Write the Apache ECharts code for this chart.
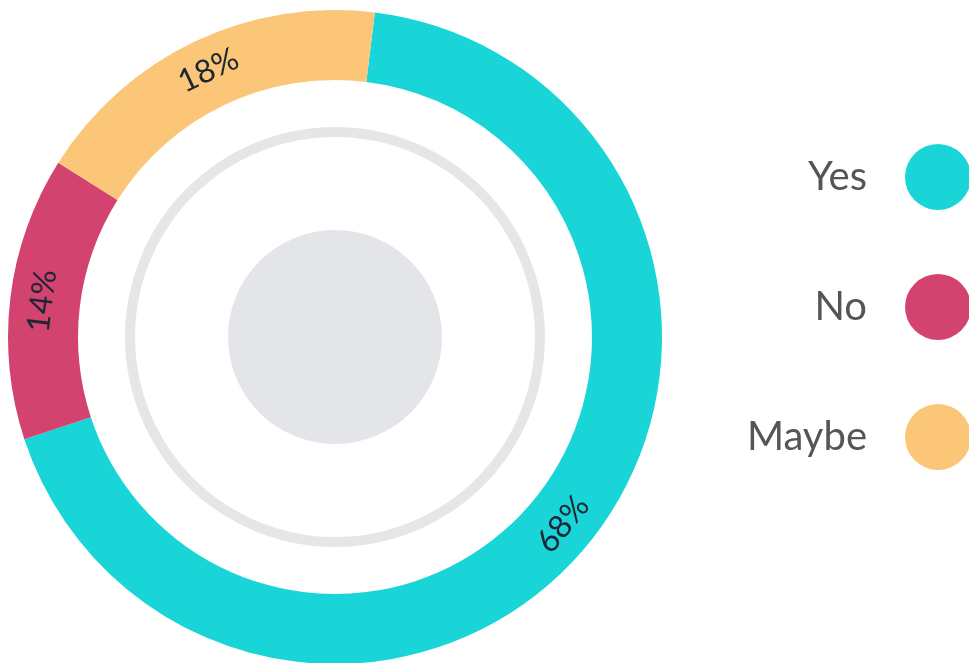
<!DOCTYPE html>
<html>
<head>
<meta charset="utf-8">
<script src="https://cdn.jsdelivr.net/npm/echarts@6/dist/echarts.min.js"></script>
<style>
  html, body { margin: 0; padding: 0; background: #fff; }
  #chart { width: 969px; height: 663px; }
</style>
</head>
<body>
<div id="chart"></div>
<script>
// poll answers, in percent
const categories = ['Yes', 'No', 'Maybe'];
const values = [68, 14, 18];
const colors = ['#1ad5d8', '#d3436f', '#fbc677'];

const chart = echarts.init(document.getElementById('chart'));

const option = {
    animation: false,
    color: colors,
    legend: {
        data: categories,
        orient: 'vertical',
        right: -7,
        top: 139,
        align: 'right',
        icon: 'circle',
        itemWidth: 66,
        itemHeight: 66,
        itemGap: 64,
        selectedMode: false,
        textStyle: {
            fontFamily: 'Lato',
            fontSize: 40,
            color: '#555',
            padding: [0, 33, 0, 0]
        }
    },
    series: [
        {
            // outer ring with the answers
            type: 'pie',
            center: [335, 337],
            radius: [257, 327],
            startAngle: 83,
            clockwise: true,
            silent: true,
            label: {
                show: true,
                position: 'inside',
                rotate: 'tangential',
                formatter: '{c}%',
                fontFamily: 'Lato',
                fontSize: 32,
                color: '#1c2733'
            },
            labelLine: { show: false },
            data: categories.map((name, i) => ({ name: name, value: values[i] }))
        },
        {
            // thin grey ring
            type: 'pie',
            center: [335, 337],
            radius: [200, 210],
            silent: true,
            label: { show: false },
            labelLine: { show: false },
            itemStyle: { color: '#e6e6e6' },
            data: [{ name: 'ring', value: 1 }]
        },
        {
            // grey disc in the middle
            type: 'pie',
            center: [335, 337],
            radius: [0, 107],
            silent: true,
            label: { show: false },
            labelLine: { show: false },
            itemStyle: { color: '#e3e5e8' },
            data: [{ name: 'disc', value: 1 }]
        }
    ]
};

chart.setOption(option);
</script>
</body>
</html>
